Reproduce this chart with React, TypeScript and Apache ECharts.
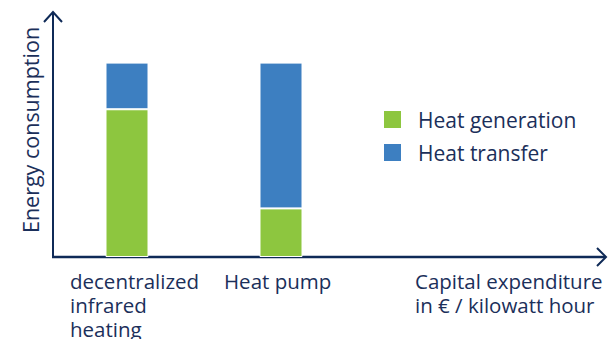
import React, { useEffect, useRef } from "react";
import * as echarts from "echarts";

const categories = ["decentralized\ninfrared\nheating", "Heat pump"];
const seriesNames = ["Heat generation", "Heat transfer"];
const heatGeneration = [76, 25];
const heatTransfer = [24, 75];
const xAxisTitle = "Capital expenditure\nin € / kilowatt hour";
const yAxisTitle = "Energy consumption";

const NAVY = "#0f2a57";
const TEXT = "#1b2f5a";
const GREEN = "#8dc63f";
const BLUE = "#3d7fc1";
const FONT = "'Open Sans', 'Noto Sans', sans-serif";

// axis frame
const AX_X = 53;
const AX_Y = 257;
const AX_TOP = 12;
const AX_RIGHT = 606;

// multi-line labels below the x axis, one text element per line
const LABEL_SIZE = 20.5;
const LABEL_Y0 = 281;
const LABEL_STEP = 24;

function lineTexts(text: string, x: number) {
  return text.split("\n").map((line, i) => ({
    type: "text",
    x,
    y: LABEL_Y0 + i * LABEL_STEP,
    style: {
      text: line,
      fontFamily: FONT,
      fontSize: LABEL_SIZE,
      fill: TEXT,
      align: "left",
      verticalAlign: "middle",
    },
  }));
}

export default function App() {
  const ref = useRef<HTMLDivElement>(null);

  useEffect(() => {
    if (!ref.current) return;
    const chart = echarts.init(ref.current, null, { renderer: "svg" });

    chart.setOption({
      animation: false,
      grid: { left: 50, top: 14, width: 308, bottom: 82 },
      legend: {
        orient: "vertical",
        left: 377,
        top: 104,
        itemWidth: 19,
        itemHeight: 19,
        itemGap: 12,
        icon: "rect",
        data: seriesNames,
        textStyle: {
          fontFamily: FONT,
          fontSize: 21,
          lineHeight: 19,
          color: TEXT,
          padding: [0, 0, 0, 11],
        },
      },
      xAxis: {
        type: "category",
        data: categories,
        axisLine: { show: false },
        axisTick: { show: false },
        axisLabel: { show: false },
      },
      yAxis: {
        type: "value",
        min: 0,
        max: 125,
        show: false,
      },
      series: [
        {
          name: seriesNames[0],
          type: "bar",
          stack: "total",
          barWidth: 43,
          data: heatGeneration,
          itemStyle: { color: GREEN, borderColor: "#fff", borderWidth: 1 },
        },
        {
          name: seriesNames[1],
          type: "bar",
          stack: "total",
          barWidth: 43,
          data: heatTransfer,
          itemStyle: { color: BLUE, borderColor: "#fff", borderWidth: 1 },
        },
      ],
    });

    const catLabels = categories.flatMap((c) => {
      const cx = chart.convertToPixel({ xAxisIndex: 0 }, c) as number;
      return lineTexts(c, cx - 57);
    });

    chart.setOption({
      graphic: [
        // y axis with open arrow head
        {
          type: "line",
          shape: { x1: AX_X, y1: AX_Y + 1, x2: AX_X, y2: AX_TOP + 1 },
          style: { stroke: NAVY, lineWidth: 2 },
        },
        {
          type: "polyline",
          shape: { points: [[AX_X - 9, AX_TOP + 10], [AX_X, AX_TOP], [AX_X + 9, AX_TOP + 10]] },
          style: { stroke: NAVY, lineWidth: 2, fill: "none" },
        },
        // x axis with open arrow head
        {
          type: "line",
          shape: { x1: AX_X - 1, y1: AX_Y, x2: AX_RIGHT - 1, y2: AX_Y },
          style: { stroke: NAVY, lineWidth: 2.5 },
        },
        {
          type: "polyline",
          shape: { points: [[AX_RIGHT - 9, AX_Y - 9], [AX_RIGHT, AX_Y], [AX_RIGHT - 9, AX_Y + 9]] },
          style: { stroke: NAVY, lineWidth: 2, fill: "none" },
        },
        ...catLabels,
        ...lineTexts(xAxisTitle, 415),
        {
          type: "text",
          x: 30,
          y: 130,
          rotation: Math.PI / 2,
          style: {
            fontFamily: FONT,
            fontSize: 21.5,
            fill: TEXT,
            text: yAxisTitle,
            align: "center",
            verticalAlign: "middle",
          },
        },
      ],
    });

    return () => chart.dispose();
  }, []);

  return <div ref={ref} style={{ width: 612, height: 339, position: "absolute", left: 0, top: 0 }} />;
}
